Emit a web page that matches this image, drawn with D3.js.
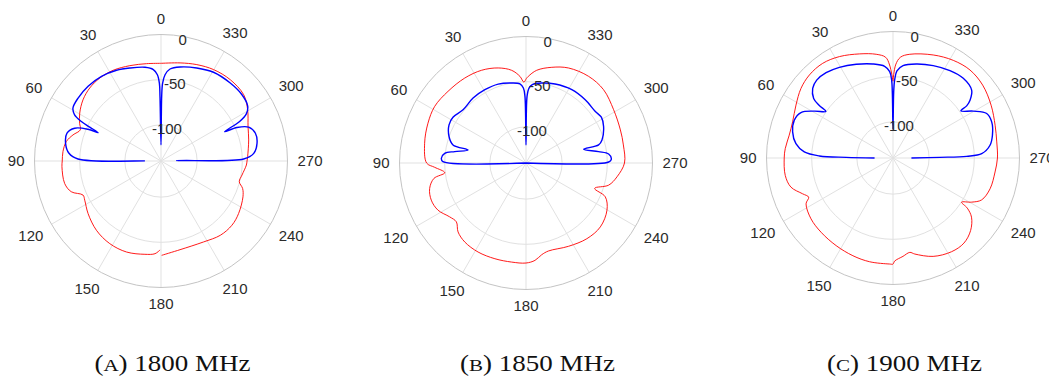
<!DOCTYPE html>
<html>
<head>
<meta charset="utf-8">
<script src="https://cdn.jsdelivr.net/npm/d3@7"></script>
<style>
  body { margin: 0; background: #fff; }
  svg { display: block; }
  .tick { font-family: "Liberation Sans", Arial, sans-serif; font-size: 15px; fill: #2b2b2b; }
  .cap { font-family: "Liberation Serif", "Times New Roman", serif; font-size: 22.5px; fill: #111; }
</style>
</head>
<body>
<svg id="chart"></svg>
<script>
// polar axes settings (deg, counter-clockwise, 0 at top)
var thetaTicks = [0, 30, 60, 90, 120, 150, 180, 210, 240, 270, 300, 330];
var rTicks = [-100, -50, 0];
var rLim = [-140, 0];
var letters = ["A", "B", "C"];
var freqs = ["1800 MHz", "1850 MHz", "1900 MHz"];

// 1800 MHz
var blueT1800 = [-90, -89.3, -88.6, -85.3, -79.5, -73.6, -68.9, -66.2, -65.2, -63.3, -61.1, -57.5, -50.7, -41.6, -30.6, -21, -11.5, -5.6, -2.7, -1.2, -0.6, 0,
  0.9, 1.2, 2.4, 4.8, 9.7, 18.5, 26.1, 35.1, 44.3, 52.8, 59, 61.9, 63.6, 64.6, 65.7, 66.5, 69.2, 73.5, 79.5, 85.2, 88.6, 89.3];
var blueV1800 = [-122.6, -122.6, -48.5, -37, -31.9, -31.1, -36, -48.1, -62.4, -42.6, -32.1, -26.3, -24.2, -24.6, -25.9, -29.7, -33.8, -37.7, -44.4, -53.7, -68.5, -122.2,
  -68.5, -53.7, -44.4, -38.5, -34.8, -31.5, -28.2, -25.5, -24.5, -24.8, -26.3, -31.6, -41.6, -52.7, -63.6, -51.9, -37.8, -31.5, -32.6, -37.8, -48.1, -122.2];
var redT1800 = [0, 8.4, 18.1, 27.8, 36.4, 44.3, 51.9, 59.5, 65.1, 68.9, 73.5, 78.4, 84.5, 90, 93.3, 103.1, 108.9, 113.6, 117.2, 125.8, 137, 148.2, 159.3, 170.2, 176.3, 179.4,
  180, 180.4, 192.1, 207.7, 218.6, 227.8, 235.9, 246.4, 251.4, 255.2, 260.2, 267.3, 270, 272.9, 283.5, 291.6, 300.6, 308.7, 319.6, 330.1, 339.6, 349, 360];
var redV1800 = [-31.9, -31.1, -29, -26.5, -25.9, -27.1, -30.3, -35.6, -40.7, -44.3, -38.4, -33, -31, -30.7, -30.2, -30.5, -35, -45.8, -45.1, -40.5, -35.2, -32.4, -32.3, -35.2, -37.2, -41.6,
  null, -35.6, -39.6, -38.8, -34.8, -34.1, -36.3, -41, -44.7, -50.4, -49, -45.4, -44.8, -44, -40.2, -36.4, -28.6, -22.7, -21.8, -23.3, -26.2, -29.4, -31.9];

// 1850 MHz
var blueT1850 = [-90, -89.3, -87.5, -83.8, -81.1, -76.6, -76, -73.1, -64.8, -58.7, -53.4, -43.1, -32, -20.2, -11.1, -4.6, -2.3, -0.9, 0,
  0.9, 2, 4.4, 10.2, 19.4, 29.3, 39.2, 49.8, 57.9, 63.6, 71, 76.1, 77.3, 80.9, 83.2, 86.8, 89.1, 90];
var blueV1850 = [-140, -48.5, -45.5, -48, -58.7, -74.5, -57.2, -52.1, -45.1, -42.4, -44.4, -44.1, -44.3, -46.9, -49.8, -53, -57, -66.3, -120,
  -66.3, -57, -52.3, -50.1, -47.4, -47, -47.3, -48.8, -44.6, -44.9, -49.9, -56.8, -74.3, -60.1, -49.4, -46.2, -48.1, -140];
var redT1850 = [0, 1.5, 4, 8.8, 16.3, 25.6, 35.8, 47.4, 58.2, 67.9, 79, 90, 92.7, 96.8, 99.5, 104.8, 111.4, 118.2, 125.2, 130.2, 135.4, 142.2, 151.7, 162, 171.7, 180,
  185.3, 189.7, 194.3, 207, 218.8, 229.3, 239.8, 246.9, 249.7, 255, 261.4, 270, 280.5, 289.3, 301.3, 313.4, 324.2, 335.9, 344.9, 353.4, 358.5, 360];
var redV1850 = [-47, -50.5, -43.9, -36.2, -30.4, -26.2, -24.1, -22.8, -21.1, -22.9, -25.7, -30, -38.8, -49.4, -36.7, -29.7, -27.4, -29.5, -36.6, -39.1, -32.9, -29.4, -28.1, -28.6, -29.2, -29.3,
  -31.8, -37, -39.5, -36.5, -32.5, -31.5, -36.3, -44.6, -59, -45.3, -38.1, -31, -30.4, -29.3, -26.5, -21.9, -21.7, -24.8, -30.3, -36.7, -44.1, -47];

// 1900 MHz
var blueT1900 = [-90, -89.2, -88.7, -87.2, -82.5, -77.1, -69.9, -64.6, -59.7, -55.2, -54.7, -53.1, -49.2, -41.4, -33.1, -23.5, -14, -6.2, -2.6, -1.2, -0.6, 0,
  0.6, 1, 2.2, 5.2, 12.1, 21.4, 30.6, 38.1, 44.4, 49.1, 53.1, 54.5, 55.3, 59.2, 63.7, 69, 75.4, 81.6, 86.1, 88.4, 89.2, 90];
var blueV1900 = [-119.6, -88.1, -58.5, -41.7, -31.7, -27.1, -23.7, -25.2, -37.1, -48.5, -40.1, -33.4, -25, -22.4, -24.6, -28.5, -32.8, -37.2, -43.6, -53.7, -66.7, -108,
  -66.7, -53.7, -44.4, -38.1, -33.6, -28.6, -23.4, -20, -19.3, -22.4, -30.2, -39.5, -49.6, -38.7, -26.4, -23, -25.2, -31.4, -41.6, -58.5, -88.1, -119.6];
var redT1900 = [0, 2.1, 4.2, 9.2, 17.8, 27.8, 36.6, 45.2, 52.9, 61.4, 70.2, 77.6, 85, 90, 99.2, 105.9, 111.6, 114.9, 117.8, 126.6, 135.9, 147, 157.7, 167.3, 178.2, 180,
  180.9, 185.8, 190.1, 192.8, 202.2, 212, 219.8, 226.9, 233, 236, 237.2, 240.7, 244.7, 252.4, 262.2, 270, 278.8, 287.8, 298.3, 309.1, 318.8, 328.3, 338.7, 350.8, 355.8, 358.4, 360];
var redV1900 = [-55, -37, -28.2, -23.7, -19, -13.1, -9.5, -9.6, -12.3, -17.7, -21.9, -22.4, -20.3, -19.6, -19.2, -22.5, -32.4, -37.1, -31.2, -27, -25.6, -24.4, -23.1, -22.3, -22.6, -22.6,
  -25.9, -30.6, -33.9, -31, -22.4, -17.7, -17.4, -22.4, -31.2, -40.8, -49.7, -40.2, -31.5, -27.3, -26, -24.4, -23.8, -21.3, -16.7, -12.1, -10.6, -13, -17.6, -23.7, -28.2, -37, -55];

var panels = [
  {cx: 161, cy: 161, blue: [blueT1800, blueV1800], red: [redT1800, redV1800]},
  {cx: 526, cy: 163, blue: [blueT1850, blueV1850], red: [redT1850, redV1850]},
  {cx: 893, cy: 158, blue: [blueT1900, blueV1900], red: [redT1900, redV1900]}
];

var width = 1049, height = 378, R = 126.5;
var svg = d3.select("#chart").attr("width", width).attr("height", height);
svg.append("rect").attr("width", width).attr("height", height).attr("fill", "#fff");

var r = d3.scaleLinear().domain(rLim).range([0, R]).clamp(true);
var rad = Math.PI / 180;

function pairUp(tv) {
  return tv[0].map(function (t, i) { return {t: t, v: tv[1][i]}; });
}

var line = d3.lineRadial()
  .angle(function (d) { return -d.t * rad; })
  .radius(function (d) { return r(d.v); })
  .defined(function (d) { return d.v !== null; })
  .curve(d3.curveCatmullRom.alpha(0.5));

panels.forEach(function (p, k) {
  var g = svg.append("g").attr("transform", "translate(" + p.cx + "," + p.cy + ")");

  // grid
  g.selectAll(".spoke").data(thetaTicks).enter().append("line")
    .attr("x1", 0).attr("y1", 0)
    .attr("x2", function (d) { return -R * Math.sin(d * rad); })
    .attr("y2", function (d) { return -R * Math.cos(d * rad); })
    .attr("stroke", "#e1e1e1").attr("stroke-width", 1);
  g.selectAll(".ring").data(rTicks).enter().append("circle")
    .attr("r", function (d) { return r(d); })
    .attr("fill", "none")
    .attr("stroke", function (d) { return d === rLim[1] ? "#c4c4c4" : "#e1e1e1"; })
    .attr("stroke-width", 1);

  // traces
  g.append("path").datum(pairUp(p.red)).attr("d", line)
    .attr("fill", "none").attr("stroke", "#ff0000").attr("stroke-width", 0.9);
  g.append("path").datum(pairUp(p.blue)).attr("d", line)
    .attr("fill", "none").attr("stroke", "#0000ff").attr("stroke-width", 1.4);

  // angle labels
  g.selectAll(".tl").data(thetaTicks).enter().append("text")
    .attr("class", "tick")
    .attr("text-anchor", "middle")
    .attr("dy", "0.35em")
    .text(function (d) { return d; })
    .each(function (d) {
      var w = this.getComputedTextLength();
      var s = Math.sin(d * rad), c = Math.cos(d * rad);
      var dist = R + 10 + Math.abs(s) * w / 2 + Math.abs(c) * 6;
      d3.select(this).attr("x", -dist * s).attr("y", -dist * c);
    });

  // radius labels
  g.selectAll(".rl").data(rTicks).enter().append("text")
    .attr("class", "tick")
    .attr("text-anchor", "middle")
    .attr("dy", "0.35em")
    .attr("x", function (d) { return (r(d) - 2) * Math.sin(10 * rad); })
    .attr("y", function (d) { return -(r(d) - 2) * Math.cos(10 * rad) + 1; })
    .text(function (d) { return d; });

  // caption
  var cap = svg.append("text").attr("class", "cap")
    .attr("text-anchor", "middle")
    .attr("transform", "translate(" + (p.cx + 11.5) + ",371) scale(1.2,1)");
  cap.append("tspan").text("(");
  cap.append("tspan").attr("font-size", "17.5px").text(letters[k]);
  cap.append("tspan").text(") " + freqs[k]);
});
</script>
</body>
</html>
